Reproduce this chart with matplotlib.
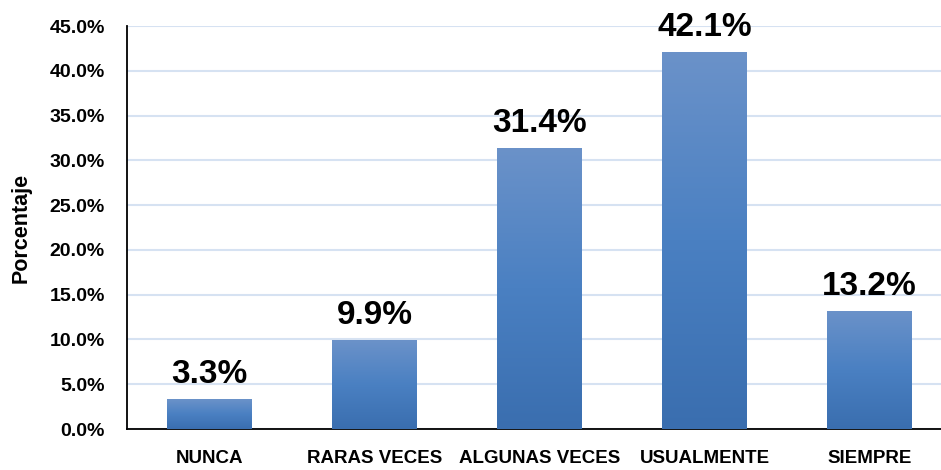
import numpy as np
import matplotlib.pyplot as plt
from matplotlib.colors import LinearSegmentedColormap

plt.rcParams['font.family'] = ['Liberation Sans', 'DejaVu Sans']

categories = ['NUNCA', 'RARAS VECES', 'ALGUNAS VECES', 'USUALMENTE', 'SIEMPRE']
values = [3.3, 9.9, 31.4, 42.1, 13.2]
y_ticks = [0, 5, 10, 15, 20, 25, 30, 35, 40, 45]

bar_width = 0.51
grad = LinearSegmentedColormap.from_list('bar', ['#3a6eaf', '#4a80c2', '#6b92c9'])

fig = plt.figure(figsize=(9.41, 4.70), dpi=100)
ax = fig.add_axes([127 / 941, 41 / 470, 825 / 941, 403 / 470])

x = np.arange(len(categories))
bars = ax.bar(x, values, width=bar_width, color='none', edgecolor='none', zorder=3)

# vertical gradient inside each bar
g = np.linspace(0, 1, 256).reshape(-1, 1)
for b in bars:
    x0, y0 = b.get_x(), b.get_y()
    w, h = b.get_width(), b.get_height()
    im = ax.imshow(g, cmap=grad, aspect='auto', origin='lower',
                   extent=[x0, x0 + w, y0, y0 + h], zorder=3)
    im.set_clip_path(b)

for xi, v in zip(x, values):
    ax.text(xi, v + 1.0, f'{v:.1f}%', ha='center', va='bottom',
            fontsize=24, fontweight='bold', color='black', zorder=4)

ax.set_xlim(-0.5, len(categories) - 0.5)
ax.set_ylim(0, 45)
ax.set_yticks(y_ticks)
ax.set_yticklabels([f'{t:.1f}%' for t in y_ticks], fontsize=14, fontweight='bold')
ax.set_xticks(x)
ax.set_xticklabels(categories, fontsize=13.5, fontweight='bold')
ax.tick_params(axis='y', length=0, pad=16)
ax.tick_params(axis='x', length=0, pad=15)

ax.yaxis.grid(True, color='#d6e2f2', linewidth=1.5, zorder=0)
ax.set_axisbelow(True)
for s in ['top', 'right']:
    ax.spines[s].set_visible(False)
ax.spines['left'].set_color('black')
ax.spines['bottom'].set_color('black')
ax.spines['left'].set_linewidth(1.3)
ax.spines['bottom'].set_linewidth(1.3)

ax.set_ylabel('Porcentaje', fontsize=15.5, fontweight='bold')
ax.yaxis.set_label_coords(-95 / 825, 0.5)

fig.savefig('out.png', dpi=100)
